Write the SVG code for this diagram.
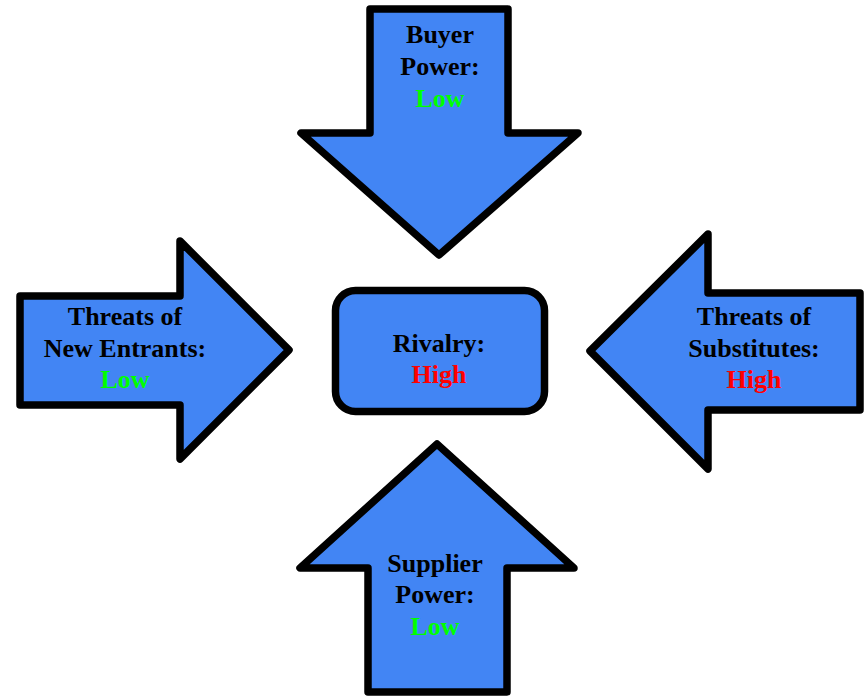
<svg xmlns="http://www.w3.org/2000/svg" width="866" height="696" viewBox="0 0 866 696">
<style>
.shape{fill:#4285f4;stroke:#000;stroke-width:7.5;stroke-linejoin:round}
text{font-family:"Liberation Serif","Times New Roman",serif;font-weight:bold;font-size:26px;text-anchor:middle;fill:#000}
.low{fill:#00ff00}
.high{fill:#ff0000}
</style>
<rect width="866" height="696" fill="#fff"/>
<g id="connectors"></g>
<g id="buyer">
<path class="shape" d="M370 9 L508 9 L508 133 L578 133 L439 255 L301 133 L370 133 Z"/>
<text x="440" y="43">Buyer</text>
<text x="440" y="75">Power:</text>
<text x="440" y="107" class="low">Low</text>
</g>
<g id="new-entrants">
<path class="shape" d="M20 296 L180 296 L180 241 L289 350 L180 459 L180 405 L20 405 Z"/>
<text x="125" y="325">Threats of</text>
<text x="125" y="357">New Entrants:</text>
<text x="125" y="388" class="low">Low</text>
</g>
<g id="substitutes">
<path class="shape" d="M860 293 L708 293 L708 234 L590 351 L708 469 L708 410 L860 410 Z"/>
<text x="754" y="325">Threats of</text>
<text x="754" y="357">Substitutes:</text>
<text x="754" y="388" class="high">High</text>
</g>
<g id="supplier">
<path class="shape" d="M368 692 L507 692 L507 568 L574 568 L437 444 L300 568 L368 568 Z"/>
<text x="435" y="572">Supplier</text>
<text x="435" y="603">Power:</text>
<text x="435" y="635" class="low">Low</text>
</g>
<g id="rivalry">
<rect class="shape" x="335.5" y="290.5" width="209" height="121" rx="20" ry="20"/>
<text x="439" y="352">Rivalry:</text>
<text x="439" y="383" class="high">High</text>
</g>
</svg>
